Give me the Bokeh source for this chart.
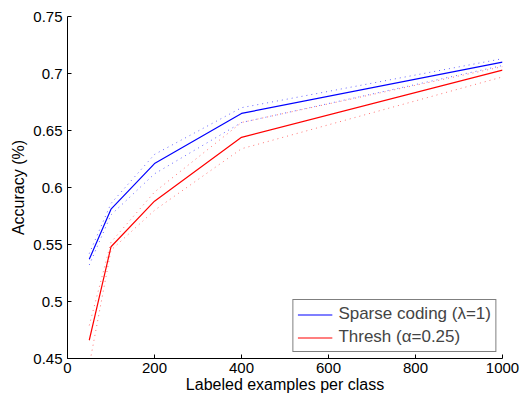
from bokeh.plotting import figure
from bokeh.models import FixedTicker, CustomJSTickFormatter, Legend, LegendItem, Range1d
from bokeh.embed import file_html
from bokeh.resources import INLINE

examples = [50, 100, 200, 400, 1000]
sparse_mean = [0.537, 0.581, 0.621, 0.665, 0.710]
sparse_upper = [0.542, 0.586, 0.629, 0.670, 0.713]
sparse_lower = [0.532, 0.576, 0.612, 0.657, 0.707]
thresh_mean = [0.466, 0.548, 0.588, 0.644, 0.703]
thresh_upper = [0.479, 0.552, 0.596, 0.657, 0.706]
thresh_lower = [0.444, 0.545, 0.580, 0.634, 0.697]
x_ticks = [0, 200, 400, 600, 800, 1000]
y_ticks = [0.45, 0.5, 0.55, 0.6, 0.65, 0.7, 0.75]

FONT = "Liberation Sans"

p = figure(width=521, height=400, output_backend="svg", toolbar_location=None,
           x_range=Range1d(0, 1000), y_range=Range1d(0.45, 0.75),
           min_border_left=67, min_border_right=19, min_border_top=16, min_border_bottom=42)
p.outline_line_color = None
p.grid.visible = False
p.background_fill_color = "white"
p.border_fill_color = "white"

sc = p.line(examples, sparse_mean, line_color="#0000ff", line_width=1.2)
p.line(examples, sparse_upper, line_color="#0000ff", line_width=1, line_alpha=0.6, line_dash="1 4")
p.line(examples, sparse_lower, line_color="#0000ff", line_width=1, line_alpha=0.6, line_dash="1 4")
th = p.line(examples, thresh_mean, line_color="#ff0000", line_width=1.2)
p.line(examples, thresh_upper, line_color="#ff0000", line_width=1, line_alpha=0.55, line_dash="1 4")
p.line(examples, thresh_lower, line_color="#ff0000", line_width=1, line_alpha=0.55, line_dash="1 4")

for ax in (p.xaxis[0], p.yaxis[0]):
    ax.major_tick_in = 4
    ax.major_tick_out = 0
    ax.minor_tick_line_color = None
    ax.axis_line_color = "black"
    ax.major_tick_line_color = "black"
    ax.major_label_text_font = FONT
    ax.major_label_text_font_size = "15px"
    ax.major_label_text_color = "black"
    ax.axis_label_text_font = FONT
    ax.axis_label_text_font_size = "16px"
    ax.axis_label_text_font_style = "normal"
    ax.axis_label_text_color = "black"

p.xaxis.ticker = FixedTicker(ticks=x_ticks)
p.yaxis.ticker = FixedTicker(ticks=y_ticks)
p.yaxis.formatter = CustomJSTickFormatter(code="return String(Math.round(tick*100)/100);")
p.xaxis.axis_label = "Labeled examples per class"
p.yaxis.axis_label = "Accuracy (%)"
p.xaxis.major_label_standoff = 4
p.yaxis.major_label_standoff = 5
p.xaxis.axis_label_standoff = 0
p.yaxis.axis_label_standoff = 3

legend = Legend(items=[LegendItem(label="Sparse coding (λ=1)", renderers=[sc]),
                       LegendItem(label="Thresh (α=0.25)", renderers=[th])],
                location="bottom_right", margin=6, padding=4, spacing=3,
                glyph_width=35, glyph_height=19, label_height=19, label_standoff=6,
                border_line_color="black", border_line_width=1,
                background_fill_color="white", background_fill_alpha=1,
                label_text_font=FONT, label_text_font_size="17px")
p.add_layout(legend)

open("out.html", "w").write(file_html(p, INLINE))
